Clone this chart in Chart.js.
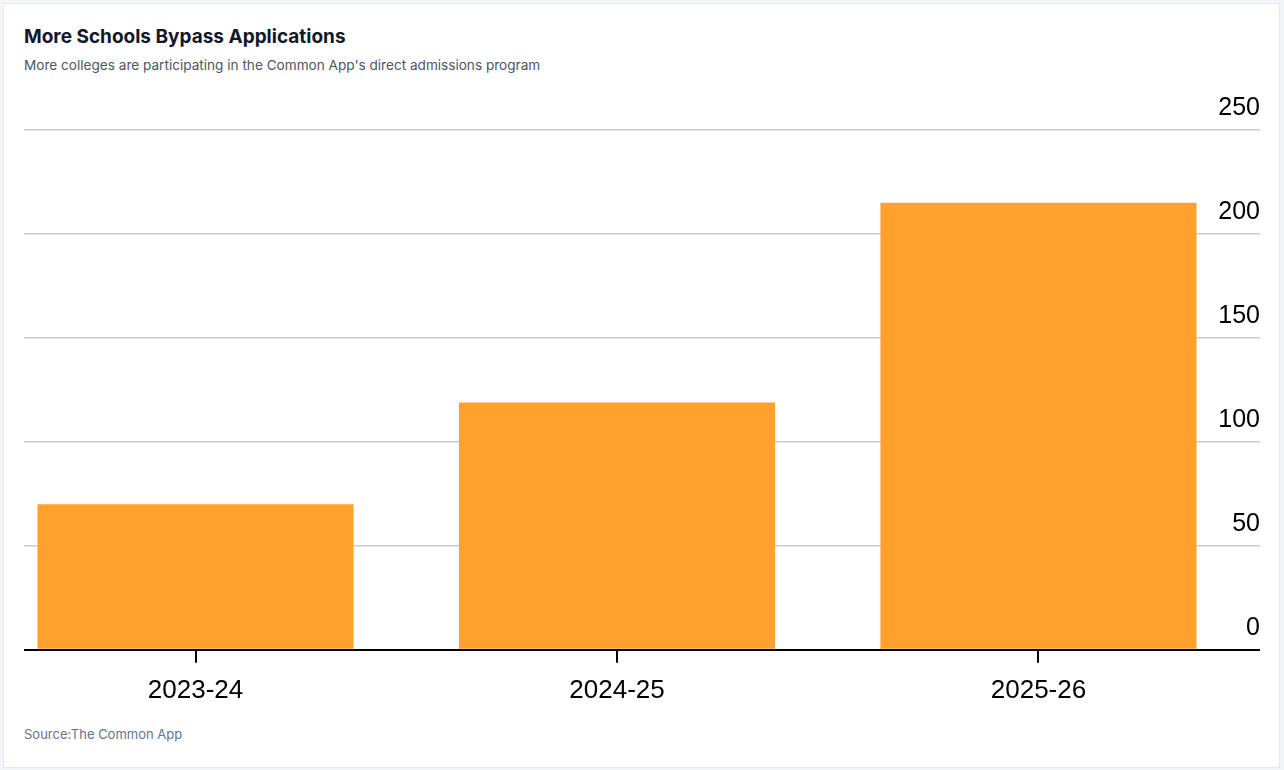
<!DOCTYPE html>
<html>
<head>
<meta charset="utf-8">
<script src="https://cdn.jsdelivr.net/npm/chart.js@4"></script>
<style>
  html, body { margin: 0; padding: 0; }
  body { background: #f3f5f8; width: 1284px; height: 770px; position: relative; overflow: hidden; }
  .card { position: absolute; left: 3px; top: 3px; width: 1275px; height: 763px; background: #fff; border: 1px solid #e5e8ee; }
  .title { position: absolute; left: 24px; top: 25px; font: 700 19px Inter, "Noto Sans", sans-serif; color: #111827; }
  .subtitle { position: absolute; left: 24px; top: 57px; font: 400 13.6px Inter, "Noto Sans", sans-serif; color: #4b5563; }
  .source { position: absolute; left: 24px; top: 726px; font: 400 13px Inter, "Noto Sans", sans-serif; color: #64748b; }
  .wrap { position: absolute; left: 0; top: 80px; width: 1284px; height: 638px; }
</style>
</head>
<body>
<div class="card"></div>
<div class="title">More Schools Bypass Applications</div>
<div class="subtitle">More colleges are participating in the Common App's direct admissions program</div>
<div class="wrap"><canvas id="chart"></canvas></div>
<div class="source">Source:The Common App</div>
<script>
const categories = ["2023-24", "2024-25", "2025-26"];
const schools = [70, 119, 215];
const yTicks = [0, 50, 100, 150, 200, 250];

const ctx = document.getElementById('chart').getContext('2d');
new Chart(ctx, {
    type: 'bar',
    data: {
        datasets: [
            {
                label: "Schools",
                data: schools.map((v, i) => ({ x: i, y: v })),
                backgroundColor: "#ffa12c",
                borderWidth: 0,
                barPercentage: 0.75,
                categoryPercentage: 1,
            }
        ],
    },
    options: {
        responsive: true,
        maintainAspectRatio: false,
        animation: false,
        layout: { padding: { left: 24, right: 24, top: 50, bottom: 0 } },
        plugins: { legend: { display: false }, tooltip: { enabled: false } },
        scales: {
            x: {
                type: 'linear',
                offset: false,
                min: -0.407,
                max: 2.407,
                afterBuildTicks: axis => { axis.ticks = categories.map((c, i) => ({ value: i })); },
                ticks: {
                    callback: v => categories[v],
                    color: '#000',
                    font: { family: '"Liberation Sans", Arial, sans-serif', size: 26 },
                    padding: 12,
                    maxRotation: 0,
                },
                grid: { offset: false, drawOnChartArea: false, tickLength: 13, color: '#000', lineWidth: 2 },
                border: { display: false },
            },
            y: {
                position: 'right',
                min: 0,
                max: 250,
                afterBuildTicks: axis => { axis.ticks = yTicks.map(v => ({ value: v })); },
                afterFit: axis => { axis.width = 50; },
                ticks: {
                    color: '#000',
                    font: { family: '"Liberation Sans", Arial, sans-serif', size: 25 },
                    crossAlign: 'far',
                    padding: 0,
                    labelOffset: -22,
                },
                grid: {
                    tickLength: 50,
                    color: c => (c.tick && c.tick.value === 0 ? '#000' : '#cccccc'),
                    lineWidth: c => (c.tick && c.tick.value === 0 ? 2 : 1.5),
                },
                border: { display: false },
            },
        },
    },
});
</script>
</body>
</html>
